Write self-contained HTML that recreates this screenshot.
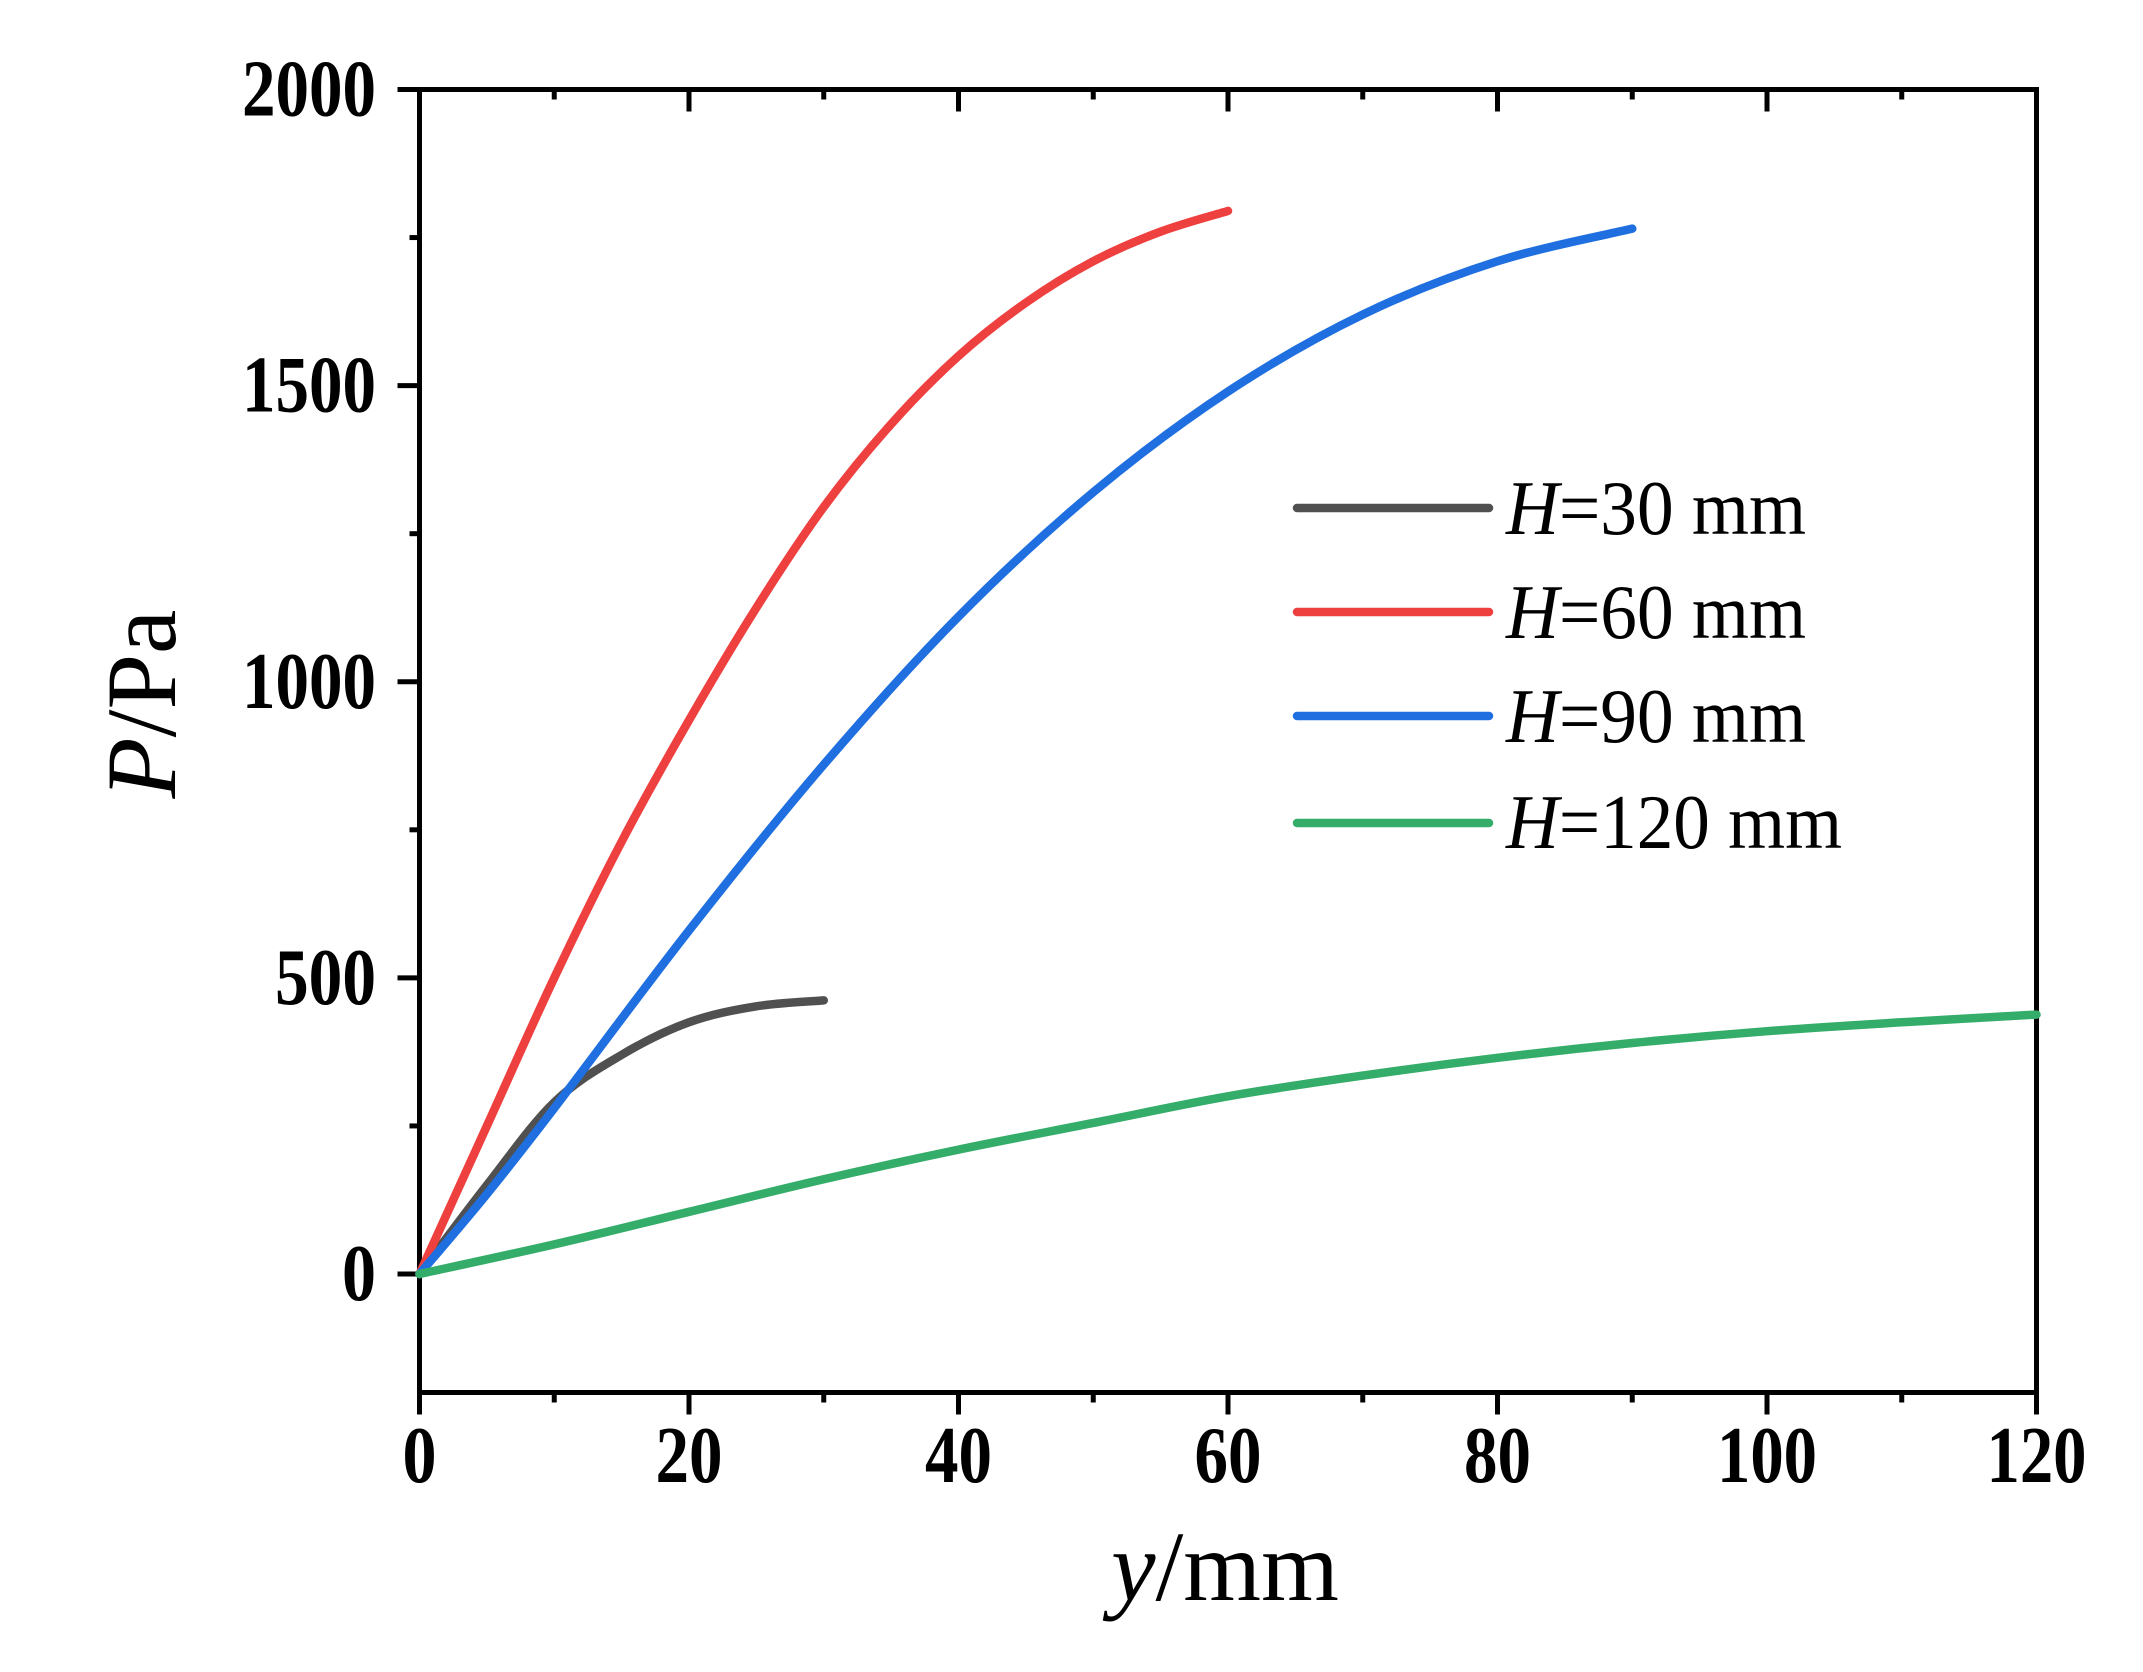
<!DOCTYPE html>
<html><head><meta charset="utf-8"><style>
html,body{margin:0;padding:0;background:#fff;}
svg{display:block;}
text{font-family:"Liberation Serif",serif;}
</style></head><body>
<svg id="s" width="2143" height="1672" viewBox="0 0 2143 1672" xmlns="http://www.w3.org/2000/svg">
<g id="ax" stroke="#000" stroke-width="5" fill="none"></g>
<g id="curves" fill="none" stroke-width="8.5" stroke-linecap="round" stroke-linejoin="round"></g>
<g font-weight="bold" font-size="80" fill="#000" id="lbl"></g>
<g stroke-width="8.5" stroke-linecap="round">
<line x1="1297" y1="508" x2="1489" y2="508" stroke="#505050"/>
<line x1="1297" y1="612" x2="1489" y2="612" stroke="#ef4040"/>
<line x1="1297" y1="716" x2="1489" y2="716" stroke="#1f6fe0"/>
<line x1="1297" y1="823" x2="1489" y2="823" stroke="#35ad6a"/>
</g>
<g font-size="77" fill="#000">
<text x="1506" y="534" textLength="300" lengthAdjust="spacingAndGlyphs"><tspan font-style="italic">H</tspan>=30 mm</text>
<text x="1506" y="638" textLength="300" lengthAdjust="spacingAndGlyphs"><tspan font-style="italic">H</tspan>=60 mm</text>
<text x="1506" y="742" textLength="300" lengthAdjust="spacingAndGlyphs"><tspan font-style="italic">H</tspan>=90 mm</text>
<text x="1506" y="848" textLength="336" lengthAdjust="spacingAndGlyphs"><tspan font-style="italic">H</tspan>=120 mm</text>
</g>
<text x="1225" y="1600" font-size="100" text-anchor="middle"><tspan font-style="italic">y</tspan>/mm</text>
<text transform="translate(175,704) rotate(-90)" font-size="100" text-anchor="middle"><tspan font-style="italic">P</tspan>/Pa</text>
</svg>
<script>
var L=419.5,R=2036.5,T=89.5,B=1392.5,Y0=1274;
function X(v){return L+(R-L)*v/120;}
function Y(v){return Y0-(Y0-T)*v/2000;}
var ax=document.getElementById('ax'),lbl=document.getElementById('lbl'),ns="http://www.w3.org/2000/svg";
function ln(x1,y1,x2,y2){var e=document.createElementNS(ns,'line');e.setAttribute('x1',x1);e.setAttribute('y1',y1);e.setAttribute('x2',x2);e.setAttribute('y2',y2);ax.appendChild(e);}
function tx(x,y,s,a,w){var e=document.createElementNS(ns,'text');e.setAttribute('y',y);
 e.setAttribute('x',a=='end'?x-w:x-w/2);e.setAttribute('textLength',w);e.setAttribute('lengthAdjust','spacingAndGlyphs');e.textContent=s;lbl.appendChild(e);}
var r=document.createElementNS(ns,'rect');r.setAttribute('x',L);r.setAttribute('y',T);r.setAttribute('width',R-L);r.setAttribute('height',B-T);ax.appendChild(r);
var wx={1:34,2:67,3:100};
for(var v=0;v<=120;v+=10){var x=X(v),M=v%20==0;
 ln(x,B,x,B+(M?22:10));ln(x,T,x,T+(M?22:10));
 if(M){var s=String(v);tx(x,1482,s,'middle',wx[s.length]);}}
for(var v=0;v<=2000;v+=250){var y=Y(v),M=v%500==0;
 ln(L,y,L-(M?22:10),y);
 if(M){var s=String(v);tx(376,y+26,s,'end',s.length==4?134:(s.length==3?101:34));}}
var data=[
["#505050",[[0,0],[5,150],[10,290],[15,370],[20,425],[25,452],[30,462]]],
["#ef4040",[[0,0],[5,250],[10,500],[15,730],[20,935],[25,1125],[30,1295],[35,1435],[40,1550],[45,1640],[50,1710],[55,1760],[60,1795]]],
["#1f6fe0",[[0,0],[5,135],[10,280],[20,580],[30,860],[40,1110],[50,1320],[60,1490],[70,1620],[80,1710],[90,1765]]],
["#35ad6a",[[0,0],[10,50],[20,105],[30,160],[40,210],[50,255],[60,300],[70,335],[80,365],[90,390],[100,410],[110,425],[120,438]]]];
var cg=document.getElementById('curves');
data.forEach(function(d){var p=d[1].map(function(q){return [X(q[0]),Y(q[1])];});
 var s="M"+p[0][0]+","+p[0][1];
 for(var i=0;i<p.length-1;i++){var p0=p[Math.max(i-1,0)],p1=p[i],p2=p[i+1],p3=p[Math.min(i+2,p.length-1)];
  s+=" C"+(p1[0]+(p2[0]-p0[0])/6)+","+(p1[1]+(p2[1]-p0[1])/6)+" "+(p2[0]-(p3[0]-p1[0])/6)+","+(p2[1]-(p3[1]-p1[1])/6)+" "+p2[0]+","+p2[1];}
 var e=document.createElementNS(ns,'path');e.setAttribute('d',s);e.setAttribute('stroke',d[0]);cg.appendChild(e);});
</script>
</body></html>
